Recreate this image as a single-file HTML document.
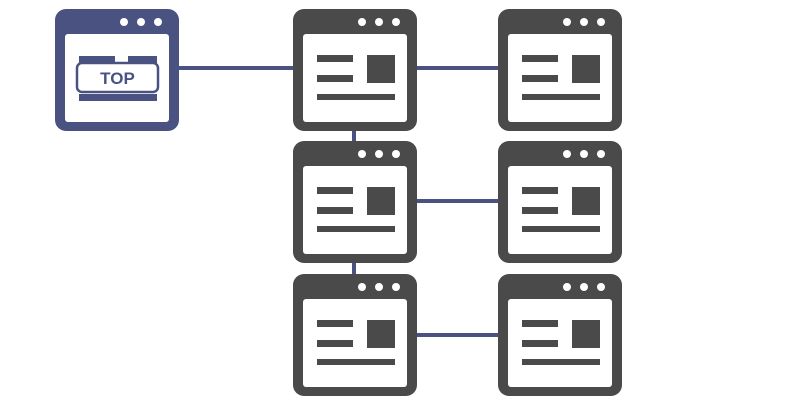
<!DOCTYPE html>
<html><head><meta charset="utf-8"><style>html,body{margin:0;padding:0;background:#fff;width:800px;height:400px;overflow:hidden}</style></head>
<body>
<svg width="800" height="400" viewBox="0 0 800 400" xmlns="http://www.w3.org/2000/svg">
<defs>
<g id="w">
<rect x="0" y="0" width="124" height="122" rx="11" fill="#4a4a4a"/>
<rect x="10" y="25" width="104" height="88" rx="3" fill="#fff"/>
<circle cx="69" cy="13" r="4" fill="#fff"/><circle cx="86" cy="13" r="4" fill="#fff"/><circle cx="103" cy="13" r="4" fill="#fff"/>
<rect x="24" y="46" width="36" height="7" fill="#4a4a4a"/>
<rect x="24" y="66" width="36" height="7" fill="#4a4a4a"/>
<rect x="74" y="46" width="28" height="28" fill="#4a4a4a"/>
<rect x="24" y="85" width="78" height="6" fill="#4a4a4a"/>
</g>
</defs>
<g stroke="#4a5282" stroke-width="4">
<line x1="178" y1="68" x2="293" y2="68"/>
<line x1="416" y1="68" x2="498" y2="68"/>
<line x1="416" y1="201" x2="498" y2="201"/>
<line x1="416" y1="335" x2="498" y2="335"/>
<line x1="354" y1="131" x2="354" y2="141"/>
<line x1="354" y1="263" x2="354" y2="274"/>
</g>
<!-- TOP window -->
<rect x="55" y="9" width="124" height="122" rx="11" fill="#4a5282"/>
<rect x="65" y="34" width="104" height="88" rx="3" fill="#fff"/>
<circle cx="124" cy="22" r="4" fill="#fff"/><circle cx="141" cy="22" r="4" fill="#fff"/><circle cx="158" cy="22" r="4" fill="#fff"/>
<rect x="79" y="56" width="36" height="7" fill="#4a5282"/>
<rect x="128" y="56" width="29" height="7" fill="#4a5282"/>
<rect x="77" y="63" width="81" height="29" rx="5" fill="#fff" stroke="#4a5282" stroke-width="2.5"/>
<text x="117.5" y="84" text-anchor="middle" font-family="Liberation Sans, sans-serif" font-size="17" font-weight="bold" fill="#4a5282">TOP</text>
<rect x="79" y="94" width="78" height="7" fill="#4a5282"/>
<use href="#w" x="293" y="9"/>
<use href="#w" x="498" y="9"/>
<use href="#w" x="293" y="141"/>
<use href="#w" x="498" y="141"/>
<use href="#w" x="293" y="274"/>
<use href="#w" x="498" y="274"/>
</svg>
</body></html>
